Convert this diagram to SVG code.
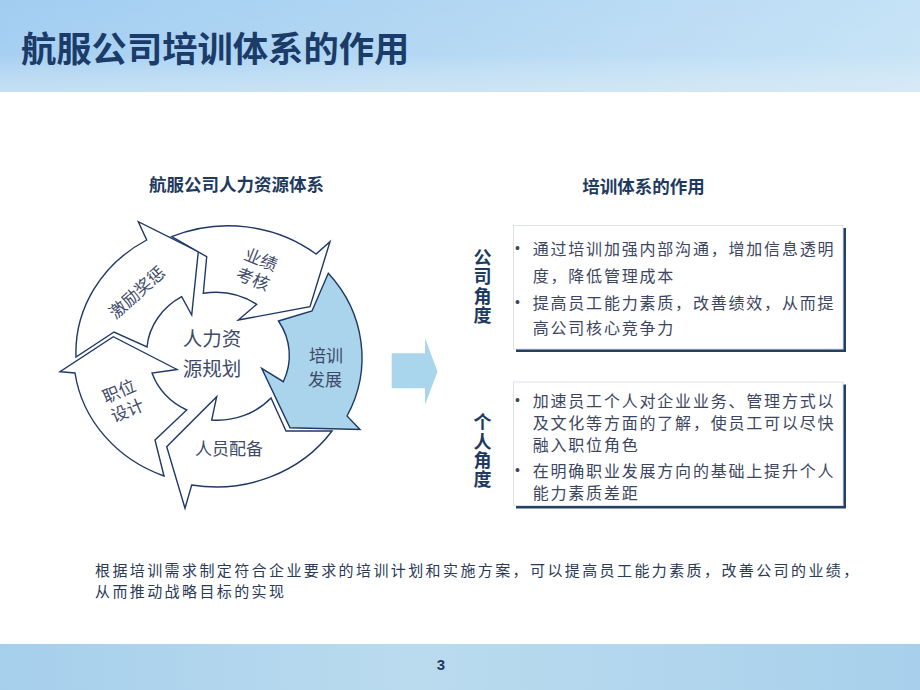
<svg xmlns="http://www.w3.org/2000/svg" width="920" height="690" viewBox="0 0 920 690">
<defs>
  <linearGradient id="hdr" x1="0" y1="0" x2="1" y2="0">
    <stop offset="0" stop-color="#A2CDF1"/>
    <stop offset="0.5" stop-color="#B2D7F3"/>
    <stop offset="1" stop-color="#C5E2F6"/>
  </linearGradient>
  <linearGradient id="hdrV" x1="0" y1="0" x2="0" y2="1">
    <stop offset="0" stop-color="#ffffff" stop-opacity="0"/>
    <stop offset="0.6" stop-color="#ffffff" stop-opacity="0.05"/>
    <stop offset="1" stop-color="#e6f1f3" stop-opacity="0.5"/>
  </linearGradient>
  <linearGradient id="ftr" x1="0" y1="0" x2="1" y2="0">
    <stop offset="0" stop-color="#A6CFEC"/>
    <stop offset="0.45" stop-color="#BADBEE"/>
    <stop offset="1" stop-color="#A8D0EC"/>
  </linearGradient>
</defs>
<style>
  text{font-family:"Noto Sans CJK SC","Noto Sans",sans-serif}
  .arrow{fill:#ffffff;stroke:#1f3864;stroke-width:1.4;stroke-linejoin:miter}
  .blue{fill:#A9D4EC}
  .lbl{font-size:17px;fill:#3e4a68;text-anchor:middle}
  .ctr{font-size:19.5px;fill:#3e4a68;text-anchor:middle}
  .box{fill:#ffffff;stroke:#dde2e8;stroke-width:1}
  .shadow{fill:#243f66}
  .bt{font-size:16px;letter-spacing:1.8px;fill:#3c4660}
  .sum{font-size:15px;letter-spacing:2.4px;fill:#2b3a55}
  .bul{font-family:"Liberation Sans",sans-serif;font-size:14px;fill:#3c4660}
  .side{font-size:18px;font-weight:bold;fill:#1f3a60;writing-mode:vertical-rl;text-orientation:upright}
  .hd{font-size:17.5px;font-weight:bold;fill:#1f3a60;text-anchor:middle}
</style>

<rect x="0" y="0" width="920" height="690" fill="#ffffff"/>
<g id="header">
  <rect x="0" y="0" width="920" height="92" fill="url(#hdr)"/>
  <rect x="0" y="0" width="920" height="92" fill="url(#hdrV)"/>
  <text x="21" y="62" font-size="35.3" font-weight="bold" fill="#1b3c68">航服公司培训体系的作用</text>
</g>

<g id="left-heading">
  <text class="hd" x="236.5" y="191">航服公司人力资源体系</text>
</g>

<g id="cycle">
  <g id="arrow-jili">
    <path class="arrow" d="M76 357 A141 130 0 0 1 146.7 240 L138.3 221.7 L198.3 251.7 L191.7 315 L181.7 296.7 A71 65 0 0 0 147 347 L114 332 Z"/>
    <text class="lbl" transform="translate(137,292.5) rotate(-42)" y="6">激励奖惩</text>
  </g>
  <g id="arrow-yeji">
    <path class="arrow" d="M171.7 236.7 A141 130 0 0 1 316 254 L330 241.7 L310 306.7 L238.3 320 L256.7 304.3 A71 65 0 0 0 203.3 293.3 L206.7 256.7 Z"/>
    <text class="lbl" transform="translate(257,269) rotate(22)"><tspan x="0" y="-4">业绩</tspan><tspan x="0" y="17">考核</tspan></text>
  </g>
  <g id="arrow-peixun">
    <path class="arrow blue" d="M328.3 273.3 A141 130 0 0 1 347 416 L360 429.5 L290 427.7 L261.7 368.3 L283.3 381.7 A71 65 0 0 0 278.5 321 L312 311 Z"/>
    <text class="lbl"><tspan x="326" y="362">培训</tspan><tspan x="325" y="386">发展</tspan></text>
  </g>
  <g id="arrow-renyuan">
    <path class="arrow" d="M332 431 A141 130 0 0 1 191.7 485 L185 508.3 L166.7 446.7 L216.7 396.7 L211.7 420 A71 65 0 0 0 271 398 L286 431 Z"/>
    <text class="lbl" x="229" y="455">人员配备</text>
  </g>
  <g id="arrow-zhiwei">
    <path class="arrow" d="M164 476 A141 130 0 0 1 75 373 L60 371.7 L113.3 336.7 L177 369.5 L152 373 A71 65 0 0 0 186.7 410 L155 440 Z"/>
    <text class="lbl" transform="translate(123,400.5) rotate(-23)"><tspan x="0" y="-4">职位</tspan><tspan x="0" y="17">设计</tspan></text>
  </g>
  <g id="center-node">
    <text class="ctr"><tspan x="212" y="346">人力资</tspan><tspan x="212" y="376">源规划</tspan></text>
  </g>
</g>

<g id="connectors">
  <polygon points="391.7,353.3 425,353.3 425,338 437.5,371.5 425,405 425,388.3 391.7,388.3" fill="#A9D6EC"/>
</g>

<g id="right-heading">
  <text class="hd" x="643.5" y="193">培训体系的作用</text>
</g>

<g id="label-company">
  <text class="side" x="482.5" y="248" letter-spacing="1.5">公司角度</text>
</g>
<g id="box-company">
  <rect class="shadow" x="516" y="228" width="330" height="124"/>
  <rect class="box" x="513.5" y="225.5" width="329.5" height="123.5"/>
  <text class="bul" x="515" y="253">•</text>
  <text class="bt" x="532.7" y="254.5">通过培训加强内部沟通，增加信息透明</text>
  <text class="bt" x="532.7" y="282">度，降低管理成本</text>
  <text class="bul" x="515" y="307">•</text>
  <text class="bt" x="532.7" y="308.5">提高员工能力素质，改善绩效，从而提</text>
  <text class="bt" x="532.7" y="333.5">高公司核心竞争力</text>
</g>

<g id="label-personal">
  <text class="side" x="482.5" y="413" letter-spacing="1">个人角度</text>
</g>
<g id="box-personal">
  <rect class="shadow" x="516" y="384.5" width="330" height="124"/>
  <rect class="box" x="513.5" y="382" width="329.5" height="123.5"/>
  <text class="bul" x="515" y="405">•</text>
  <text class="bt" x="532.7" y="406.5">加速员工个人对企业业务、管理方式以</text>
  <text class="bt" x="532.7" y="428.5">及文化等方面的了解，使员工可以尽快</text>
  <text class="bt" x="532.7" y="450.5">融入职位角色</text>
  <text class="bul" x="515" y="475">•</text>
  <text class="bt" x="532.7" y="476.5">在明确职业发展方向的基础上提升个人</text>
  <text class="bt" x="532.7" y="498.5">能力素质差距</text>
</g>

<g id="summary">
  <text class="sum" x="95" y="575.5">根据培训需求制定符合企业要求的培训计划和实施方案，可以提高员工能力素质，改善公司的业绩，</text>
  <text class="sum" x="95" y="596.5">从而推动战略目标的实现</text>
</g>

<g id="footer">
  <rect x="0" y="644" width="920" height="46" fill="url(#ftr)"/>
  <text x="441" y="670" font-size="15" font-weight="bold" fill="#1f3a60" text-anchor="middle" style="font-family:'Liberation Sans',sans-serif">3</text>
</g>
</svg>
